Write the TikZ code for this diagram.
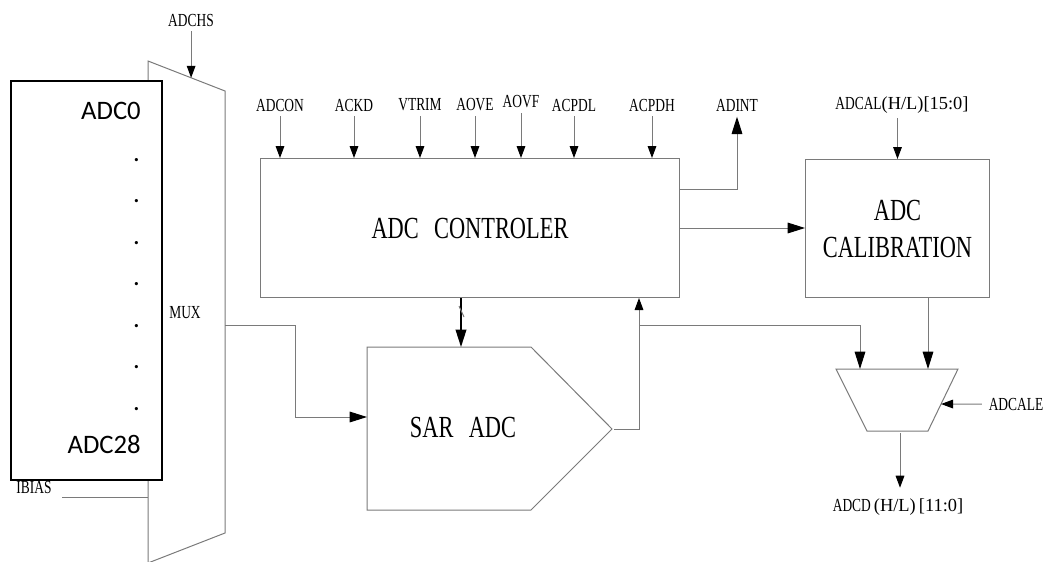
\documentclass[tikz,border=0pt]{standalone}
\usepackage{fontspec}
\setmainfont{Liberation Serif}
\newfontfamily\cnfont[FakeStretch=0.73]{Liberation Serif}
\newfontfamily\cnwide{Liberation Serif}
\newfontfamily\chfont{Carlito}
\usetikzlibrary{arrows.meta, positioning, calc}
\definecolor{kWire}{HTML}{7A7A7A}

\begin{document}
\begin{tikzpicture}[x=0.75pt, y=-0.75pt,
      wire/.style={draw=kWire, line width=0.75pt},
      arr/.style={wire, shorten <=1.5pt, -{Triangle[length=9pt, width=6.5pt, color=black, fill=black]}},
      bigarr/.style={wire, -{Triangle[length=13pt, width=8pt, color=black, fill=black]}},
      lbl/.style={font=\cnfont\fontsize{13.8}{16}\selectfont, inner sep=2pt},
      bigtext/.style={font=\cnfont\fontsize{23}{27.75}\selectfont, align=center},
      chan/.style={font=\chfont\fontsize{20}{24}\selectfont, inner sep=0pt},
      blk/.style={wire, anchor=north west, inner sep=0pt}]
  \useasboundingbox (0,0) rectangle (1043,561);

  % input multiplexer
  \coordinate (muxA) at (148,61);
  \coordinate (muxB) at (225,91);
  \coordinate (muxC) at (225,533);
  \coordinate (muxD) at (148,563);
  \draw[wire] (muxA) -- (muxB) -- (muxC) -- (muxD) -- cycle;
  \node[lbl] (lMUX) at (185,313) {MUX};
  \node[lbl] (lADCHS) at (191,20) {ADCHS};
  \coordinate (chs) at ($(muxA)!0.56!(muxB)$);
  \draw[arr] (chs |- lADCHS.south) -- (chs);
  \node[lbl] (lIBIAS) at (34,487) {IBIAS};
  \coordinate (ib) at (62,497);
  \draw[wire] (ib) -- (ib -| muxA);

  % analog channels
  \node[draw=black, line width=2.2pt, fill=white, anchor=north west,
        minimum width=113.25pt, minimum height=299.25pt, inner sep=0pt] (chbox) at (9.5,79.5) {};
  \node[chan, anchor=east] (ch0) at (141,111) {ADC0};
  \foreach \i in {0,...,6}
    \node[chan, anchor=base east] (dot\i) at (140,161+41.5*\i) {.};
  \node[chan, anchor=east] (ch28) at (141,444) {ADC28};

  % controller
  \node[blk, bigtext, minimum width=314.25pt, minimum height=104.25pt] (ctrl) at (260,158)
    {ADC\hspace{0.5em}CONTROLER};
  \foreach \s/\x/\y in {ADCON/280/105, ACKD/354/105, VTRIM/420/105, AOVE/475/105,
                        AOVF/521/102, ACPDL/574/105, ACPDH/652/105}{
    \node[lbl] (l\s) at (\x,\y) {\s};
    \draw[arr] (l\s) -- (l\s |- ctrl.north);
  }
  \node[lbl] (lADINT) at (737,105) {ADINT};
  \draw[bigarr, shorten >=2pt] ($(ctrl.north east)+(0,31)$) -| (lADINT);

  % calibration
  \node[blk, bigtext, minimum width=138pt, minimum height=103.5pt] (cal) at (805,159)
    {ADC\\CALIBRATION};
  \draw[bigarr] (ctrl.east) -- (ctrl.east -| cal.west);
  \node[lbl] (lADCAL) at (902,105) {ADCAL{\cnwide(H/L)[15:0]}};
  \draw[arr] (lADCAL.south -| cal.north) -- (cal.north);

  % sar adc
  \coordinate (sar1) at (367,347);
  \coordinate (sar2) at (531,347);
  \coordinate (sar3) at (612,429);
  \coordinate (sar4) at (531,510);
  \coordinate (sar5) at (367,510);
  \draw[wire] (sar1) -- (sar2) -- (sar3) -- (sar4) -- (sar5) -- cycle;
  \node[bigtext] (tSar) at (463,427) {SAR\hspace{0.5em}ADC};
  \coordinate (sarT) at (461,347);
  \draw[bigarr, draw=black, line width=1.2pt] (ctrl.south -| sarT) -- (sarT);
  \draw[wire] (459,306) -- (464,317);
  \coordinate (muxout) at (225,325);
  \coordinate (sarin) at (367,417);
  \draw[bigarr] (muxout) -- (295,325) |- (sarin);

  % output selector
  \coordinate (om1) at (836,369);
  \coordinate (om2) at (958,369);
  \coordinate (om3) at (928,431);
  \coordinate (om4) at (867,431);
  \draw[wire] (om1) -- (om2) -- (om3) -- (om4) -- cycle;
  \coordinate (omA) at (860,369);
  \coordinate (tap) at (639,325);
  \draw[arr] (sar3) -| (ctrl.south -| tap);
  \draw[bigarr] (tap) -| (omA);
  \draw[bigarr] (cal.south -| om3) -- (om3 |- om1);
  \node[lbl] (lADCALE) at (1016,404) {ADCALE};
  \draw[arr, shorten <=3pt] (lADCALE) -- ($(om2)!0.565!(om3)$);
  \coordinate (omout) at (900,431);
  \node[lbl] (lADCD) at (898,507) {ADCD{\cnwide\,(H/L)\,[11:0]}};
  \draw[arr, shorten >=6pt] (omout) -- (omout |- lADCD.north);
\end{tikzpicture}
\end{document}
